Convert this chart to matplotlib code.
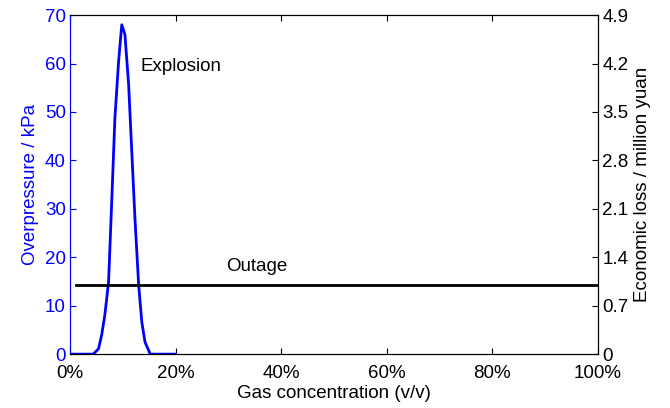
import matplotlib.pyplot as plt
import numpy as np

plt.rcParams['font.family'] = ['Liberation Sans', 'DejaVu Sans']
plt.rcParams['font.size'] = 13.5

# gas concentration (fraction) vs overpressure (kPa)
conc = [0.003, 0.044, 0.054, 0.060, 0.066, 0.073, 0.079, 0.085, 0.092, 0.098,
        0.104, 0.111, 0.117, 0.123, 0.130, 0.136, 0.142, 0.152, 0.20]
overp = [0, 0, 1.1, 4.0, 8.1, 14.9, 31.5, 48.7, 60.4, 68.0,
         66.0, 55.7, 41.8, 28.0, 14.3, 6.6, 2.5, 0, 0]

# outage loss line (million yuan)
outage_x = [0.012, 1.0]
outage_loss = [1.0, 1.0]

xticks = [0, 0.2, 0.4, 0.6, 0.8, 1.0]
xticklabels = ['0%', '20%', '40%', '60%', '80%', '100%']
left_ticks = [0, 10, 20, 30, 40, 50, 60, 70]
right_ticks = [0, 0.7, 1.4, 2.1, 2.8, 3.5, 4.2, 4.9]

fig = plt.figure(figsize=(6.7, 4.08), dpi=100)
ax = fig.add_axes([0.1045, 0.132, 0.788, 0.831])
ax2 = ax.twinx()

ax.plot(conc, overp, color='#0000ff', lw=2)
ax2.plot(outage_x, outage_loss, color='black', lw=2)

ax.set_xlim(0, 1)
ax.set_ylim(0, 70)
ax2.set_ylim(0, 4.9)
ax.set_xticks(xticks)
ax.set_xticklabels(xticklabels)
ax.set_yticks(left_ticks)
ax2.set_yticks(right_ticks)
ax2.set_yticklabels(['0', '0.7', '1.4', '2.1', '2.8', '3.5', '4.2', '4.9'])

ax.tick_params(axis='x', direction='in', top=True, length=4, pad=8)
ax.tick_params(axis='y', direction='in', colors='#0000ff', length=4, pad=3)
ax2.tick_params(axis='y', direction='in', colors='black', length=4, pad=3)
ax.spines['left'].set_color('#0000ff')
ax2.spines['left'].set_color('#0000ff')

ax.set_xlabel('Gas concentration (v/v)', labelpad=2)
ax.set_ylabel('Overpressure / kPa', color='#0000ff', labelpad=4)
ax2.set_ylabel('Economic loss / million yuan', labelpad=4)

ax.text(0.133, 59.4, 'Explosion', ha='left', va='center')
ax2.text(0.295, 1.27, 'Outage', ha='left', va='center')

fig.savefig('out.png', dpi=100)
